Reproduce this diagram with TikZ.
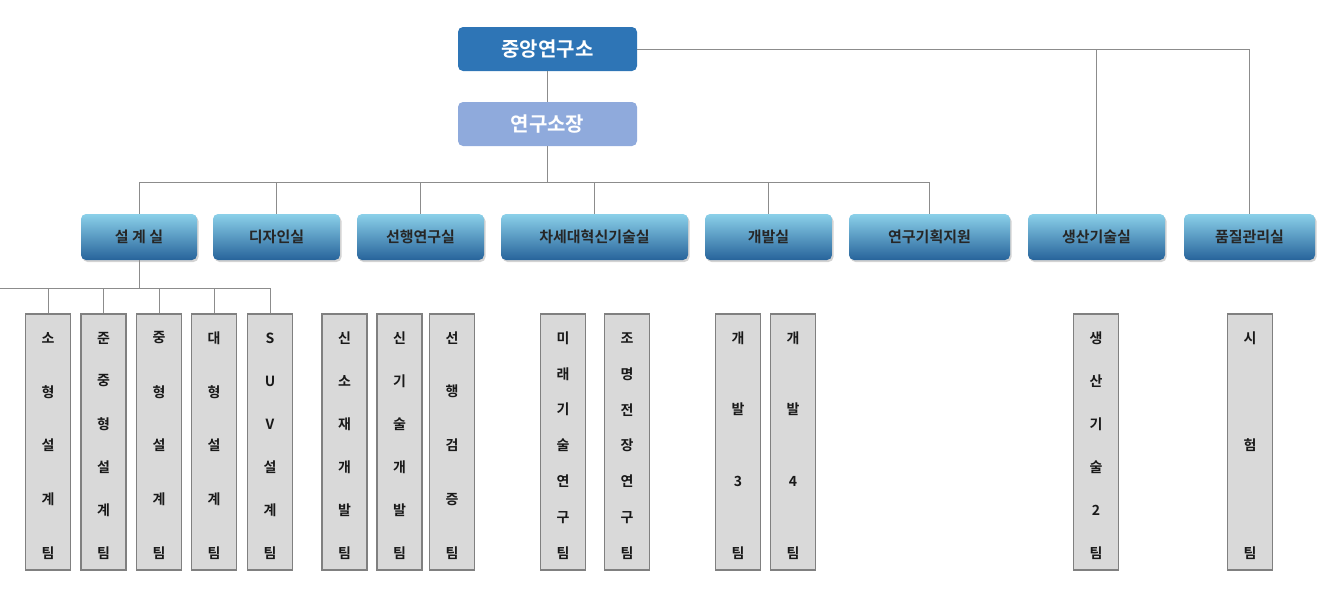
\documentclass[tikz,border=0pt]{standalone}
\usepackage{fontspec}
\setmainfont{Noto Sans CJK KR Bold}
\usetikzlibrary{shadows}
\definecolor{topblue}{HTML}{2E75B6}
\definecolor{subblue}{HTML}{8FAADC}
\definecolor{ln}{HTML}{8C8C8C}
\definecolor{tfill}{HTML}{D9D9D9}
\definecolor{tborder}{HTML}{808080}
\tikzset{
  head/.style={rounded corners=5pt, draw=none, minimum width=179pt, minimum height=44pt, text=white, font=\fontsize{20}{22}\selectfont},
  dept/.style={rounded corners=5pt, top color=blue!10!cyan!30!white!70!topblue, bottom color=topblue!85!black, draw=none, minimum height=46pt, font=\fontsize{15}{17}\selectfont, text=black!85, drop shadow={shadow xshift=1.5pt, shadow yshift=-2pt, opacity=0.35}},
  team/.style={fill=tfill, draw=tborder, line width=1.8pt, minimum width=45pt, minimum height=256pt},
  ch/.style={font=\fontsize{14}{16}\selectfont, text=black!90, inner sep=0pt},
  conn/.style={draw=ln, line width=0.9pt}
}
% \teambox{name}{xcenter}{n}{chars}
\newcommand{\teambox}[4]{%
  \node[team] (#1) at (#2,442) {};
  \foreach \c [count=\i] in {#4} {
    \pgfmathsetmacro{\yy}{338+(\i-1)*215/(#3-1)}
    \node[ch] (#1c\i) at (#2,\yy) {\c};
  }
}
\begin{document}
\begin{tikzpicture}[x=1pt,y=-1pt]
\useasboundingbox (0,0) rectangle (1338,597);
\node[head, fill=topblue] (hq) at (547.5,49) {중앙연구소};
\node[head, fill=subblue] (dir) at (547.5,124) {연구소장};
% departments
\node[dept, minimum width=116pt] (d1) at (139,237) {설 계 실};
\node[dept, minimum width=127pt] (d2) at (276.5,237) {디자인실};
\node[dept, minimum width=127pt] (d3) at (420.5,237) {선행연구실};
\node[dept, minimum width=187pt] (d4) at (594.5,237) {차세대혁신기술실};
\node[dept, minimum width=127pt] (d5) at (768.5,237) {개발실};
\node[dept, minimum width=161pt] (d6) at (929.5,237) {연구기획지원};
\node[dept, minimum width=137pt] (d7) at (1096.5,237) {생산기술실};
\node[dept, minimum width=131pt] (d8) at (1249.5,237) {품질관리실};
% teams
\teambox{t1}{48}{5}{소,형,설,계,팀}
\teambox{t2}{103.5}{6}{준,중,형,설,계,팀}
\teambox{t3}{159}{5}{중,형,설,계,팀}
\teambox{t4}{214}{5}{대,형,설,계,팀}
\teambox{t5}{270}{6}{S,U,V,설,계,팀}
\teambox{t6}{344.5}{6}{신,소,재,개,발,팀}
\teambox{t7}{399.5}{6}{신,기,술,개,발,팀}
\teambox{t8}{452}{5}{선,행,검,증,팀}
\teambox{t9}{563}{7}{미,래,기,술,연,구,팀}
\teambox{t10}{627}{7}{조,명,전,장,연,구,팀}
\teambox{t11}{738}{4}{개,발,3,팀}
\teambox{t12}{793}{4}{개,발,4,팀}
\teambox{t13}{1096}{6}{생,산,기,술,2,팀}
\teambox{t14}{1250}{3}{시,험,팀}
% connectors
\coordinate (bus) at (547.5,182);
\begin{scope}[on background layer/.try]
\draw[conn] (hq) -- (dir);
\draw[conn] (hq.east) -| (d7.north);
\draw[conn] (hq.east) -| (d8.north);
\draw[conn] (dir.south) -- (bus);
\foreach \d in {d1,d2,d3,d4,d5,d6} \draw[conn] (bus) -| (\d.north);
\draw[conn] (bus) -- (d1.north |- bus);
\foreach \t in {t1,t2,t3,t4,t5} \draw[conn] (d1.south) |- (0,288) -| (\t.north) ;
\end{scope}
\end{tikzpicture}
\end{document}
